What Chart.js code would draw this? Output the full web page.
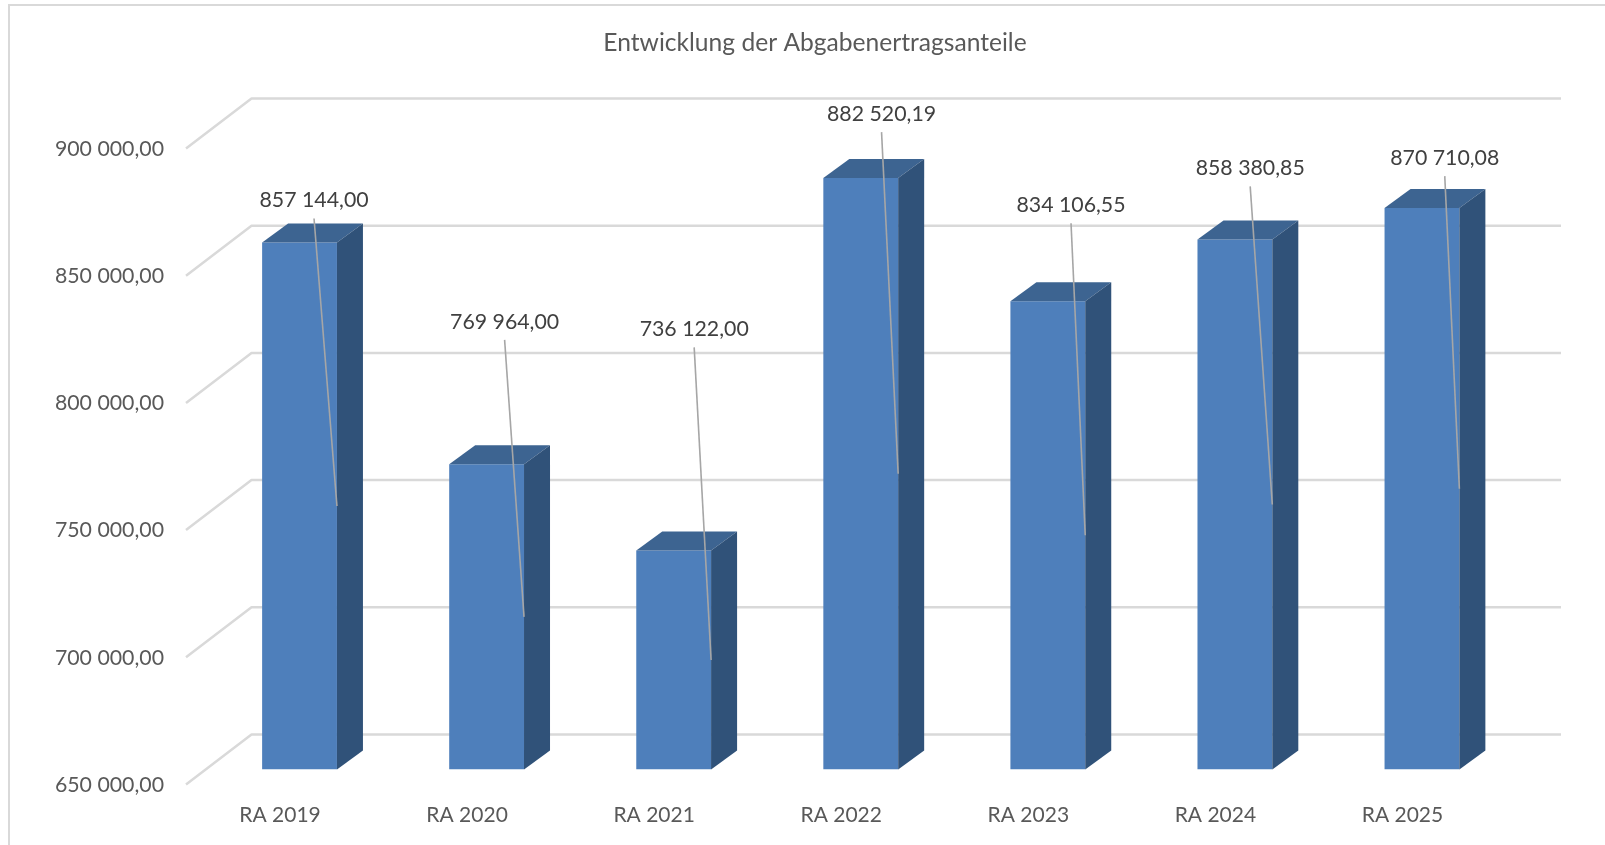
<!DOCTYPE html>
<html>
<head>
<meta charset="utf-8">
<title>Entwicklung der Abgabenertragsanteile</title>
<script src="https://cdn.jsdelivr.net/npm/chart.js@4/dist/chart.umd.min.js"></script>
<style>
	html, body { margin: 0; padding: 0; background: #fff; overflow: hidden; }
	#frame { position: absolute; left: 8px; top: 4px; width: 1597px; height: 841px; box-sizing: border-box; border-left: 2.5px solid #d9d9d9; border-top: 2.5px solid #d9d9d9; }
	#myChart { position: absolute; left: 0; top: 0; }
</style>
</head>
<body>
<div id="frame"></div>
<canvas id="myChart" width="1605" height="845"></canvas>
<script>
const categories = ['RA 2019', 'RA 2020', 'RA 2021', 'RA 2022', 'RA 2023', 'RA 2024', 'RA 2025'];
const amounts = [857144.00, 769964.00, 736122.00, 882520.19, 834106.55, 858380.85, 870710.08];
const tickMin = 650000;
const tickMax = 900000;
const tickStep = 50000;

const FONT = 'Lato';

// "857 144,00"
const formatValue = (v) => {
	const parts = v.toFixed(2).split('.');
	return parts[0].replace(/\B(?=(\d{3})+$)/g, ' ') + ',' + parts[1];
};

// fake 3d: floor/back wall lines behind the bars, bar top and side, moved labels
const fake3d = {
	id: 'fake3d',
	beforeDatasetsDraw(chart, args, opts) {
		const { ctx, chartArea, scales } = chart;
		const y = scales.y;
		ctx.save();
		ctx.strokeStyle = '#d9d9d9';
		ctx.lineWidth = 2.5;
		ctx.lineJoin = 'round';
		y.ticks.forEach((t) => {
			const py = y.getPixelForValue(t.value);
			ctx.beginPath();
			ctx.moveTo(chartArea.left - 20, py + 15);
			ctx.lineTo(chartArea.left + 45.5, py - 35);
			ctx.lineTo(chartArea.right + 45.5, py - 35);
			ctx.stroke();
		});
		ctx.restore();
	},
	afterDatasetsDraw(chart, args, opts) {
		const { ctx } = chart;
		const bars = chart.getDatasetMeta(0).data;
		const dx = 26, dy = 19;
		ctx.save();
		bars.forEach((bar) => {
			const l = bar.x - bar.width / 2;
			const r = bar.x + bar.width / 2;
			ctx.fillStyle = '#3d6491';
			ctx.beginPath();
			ctx.moveTo(l, bar.y);
			ctx.lineTo(l + dx, bar.y - dy);
			ctx.lineTo(r + dx, bar.y - dy);
			ctx.lineTo(r, bar.y);
			ctx.closePath();
			ctx.fill();
			ctx.fillStyle = '#305279';
			ctx.beginPath();
			ctx.moveTo(r, bar.y);
			ctx.lineTo(r + dx, bar.y - dy);
			ctx.lineTo(r + dx, bar.base - dy);
			ctx.lineTo(r, bar.base);
			ctx.closePath();
			ctx.fill();
		});
		// leader lines run from the label down to the middle of the bar's right edge
		bars.forEach((bar, i) => {
			const lx = bar.x + opts.labelDx[i];
			const ly = bar.y + opts.labelDy[i];
			ctx.strokeStyle = '#a6a6a6';
			ctx.lineWidth = 1.6;
			ctx.beginPath();
			ctx.moveTo(lx, ly + 18);
			ctx.lineTo(bar.x + bar.width / 2, (bar.y + bar.base) / 2);
			ctx.stroke();
			ctx.fillStyle = '#404040';
			ctx.font = '21.3px ' + FONT;
			ctx.textAlign = 'center';
			ctx.textBaseline = 'middle';
			ctx.fillText(formatValue(amounts[i]), lx, ly);
		});
		ctx.restore();
	}
};

const ctx = document.getElementById('myChart').getContext('2d');
new Chart(ctx, {
	type: 'bar',
	plugins: [fake3d],
	data: {
		labels: categories,
		datasets: [{
			data: amounts,
			base: tickMin,
			backgroundColor: '#4e7fbb',
			barPercentage: 0.4,
			categoryPercentage: 1
		}]
	},
	options: {
		responsive: false,
		animation: false,
		layout: { padding: { left: 25, right: 0, top: 0, bottom: 0 } },
		plugins: {
			legend: { display: false },
			tooltip: { enabled: false },
			title: {
				display: true,
				text: 'Entwicklung der Abgabenertragsanteile',
				color: '#595959',
				font: { family: FONT, size: 24.6, weight: 'normal', lineHeight: 1.2 },
				padding: { top: 28, bottom: 76 }
			},
			fake3d: {
				labelDx: [14.5, 18, 20.5, 20.8, 23.2, 15.3, 22.8],
				labelDy: [-42, -142.5, -221, -63.9, -95.9, -71, -49.9]
			}
		},
		scales: {
			x: {
				grid: { display: false, drawTicks: false },
				border: { display: false },
				afterFit(scale) { scale.height = 75.5; },
				ticks: {
					color: '#595959',
					font: { family: FONT, size: 21 },
					padding: 33.5,
					labelOffset: -19.5,
					maxRotation: 0,
					autoSkip: false
				}
			},
			y: {
				min: tickMin,
				max: tickMax,
				grid: { display: false, drawTicks: false },
				border: { display: false },
				afterFit(scale) { scale.width = 181; },
				ticks: {
					stepSize: tickStep,
					color: '#595959',
					font: { family: FONT, size: 21.3 },
					padding: 42,
					labelOffset: 15.5,
					callback: (v) => formatValue(v)
				}
			},
			// empty axis, only keeps the gap right of the plot so the title stays off centre
			yRight: {
				position: 'right',
				min: tickMin,
				max: tickMax,
				grid: { display: false, drawTicks: false },
				border: { display: false },
				ticks: { display: false },
				afterFit(scale) { scale.width = 89.5; }
			}
		}
	}
});
</script>
</body>
</html>
